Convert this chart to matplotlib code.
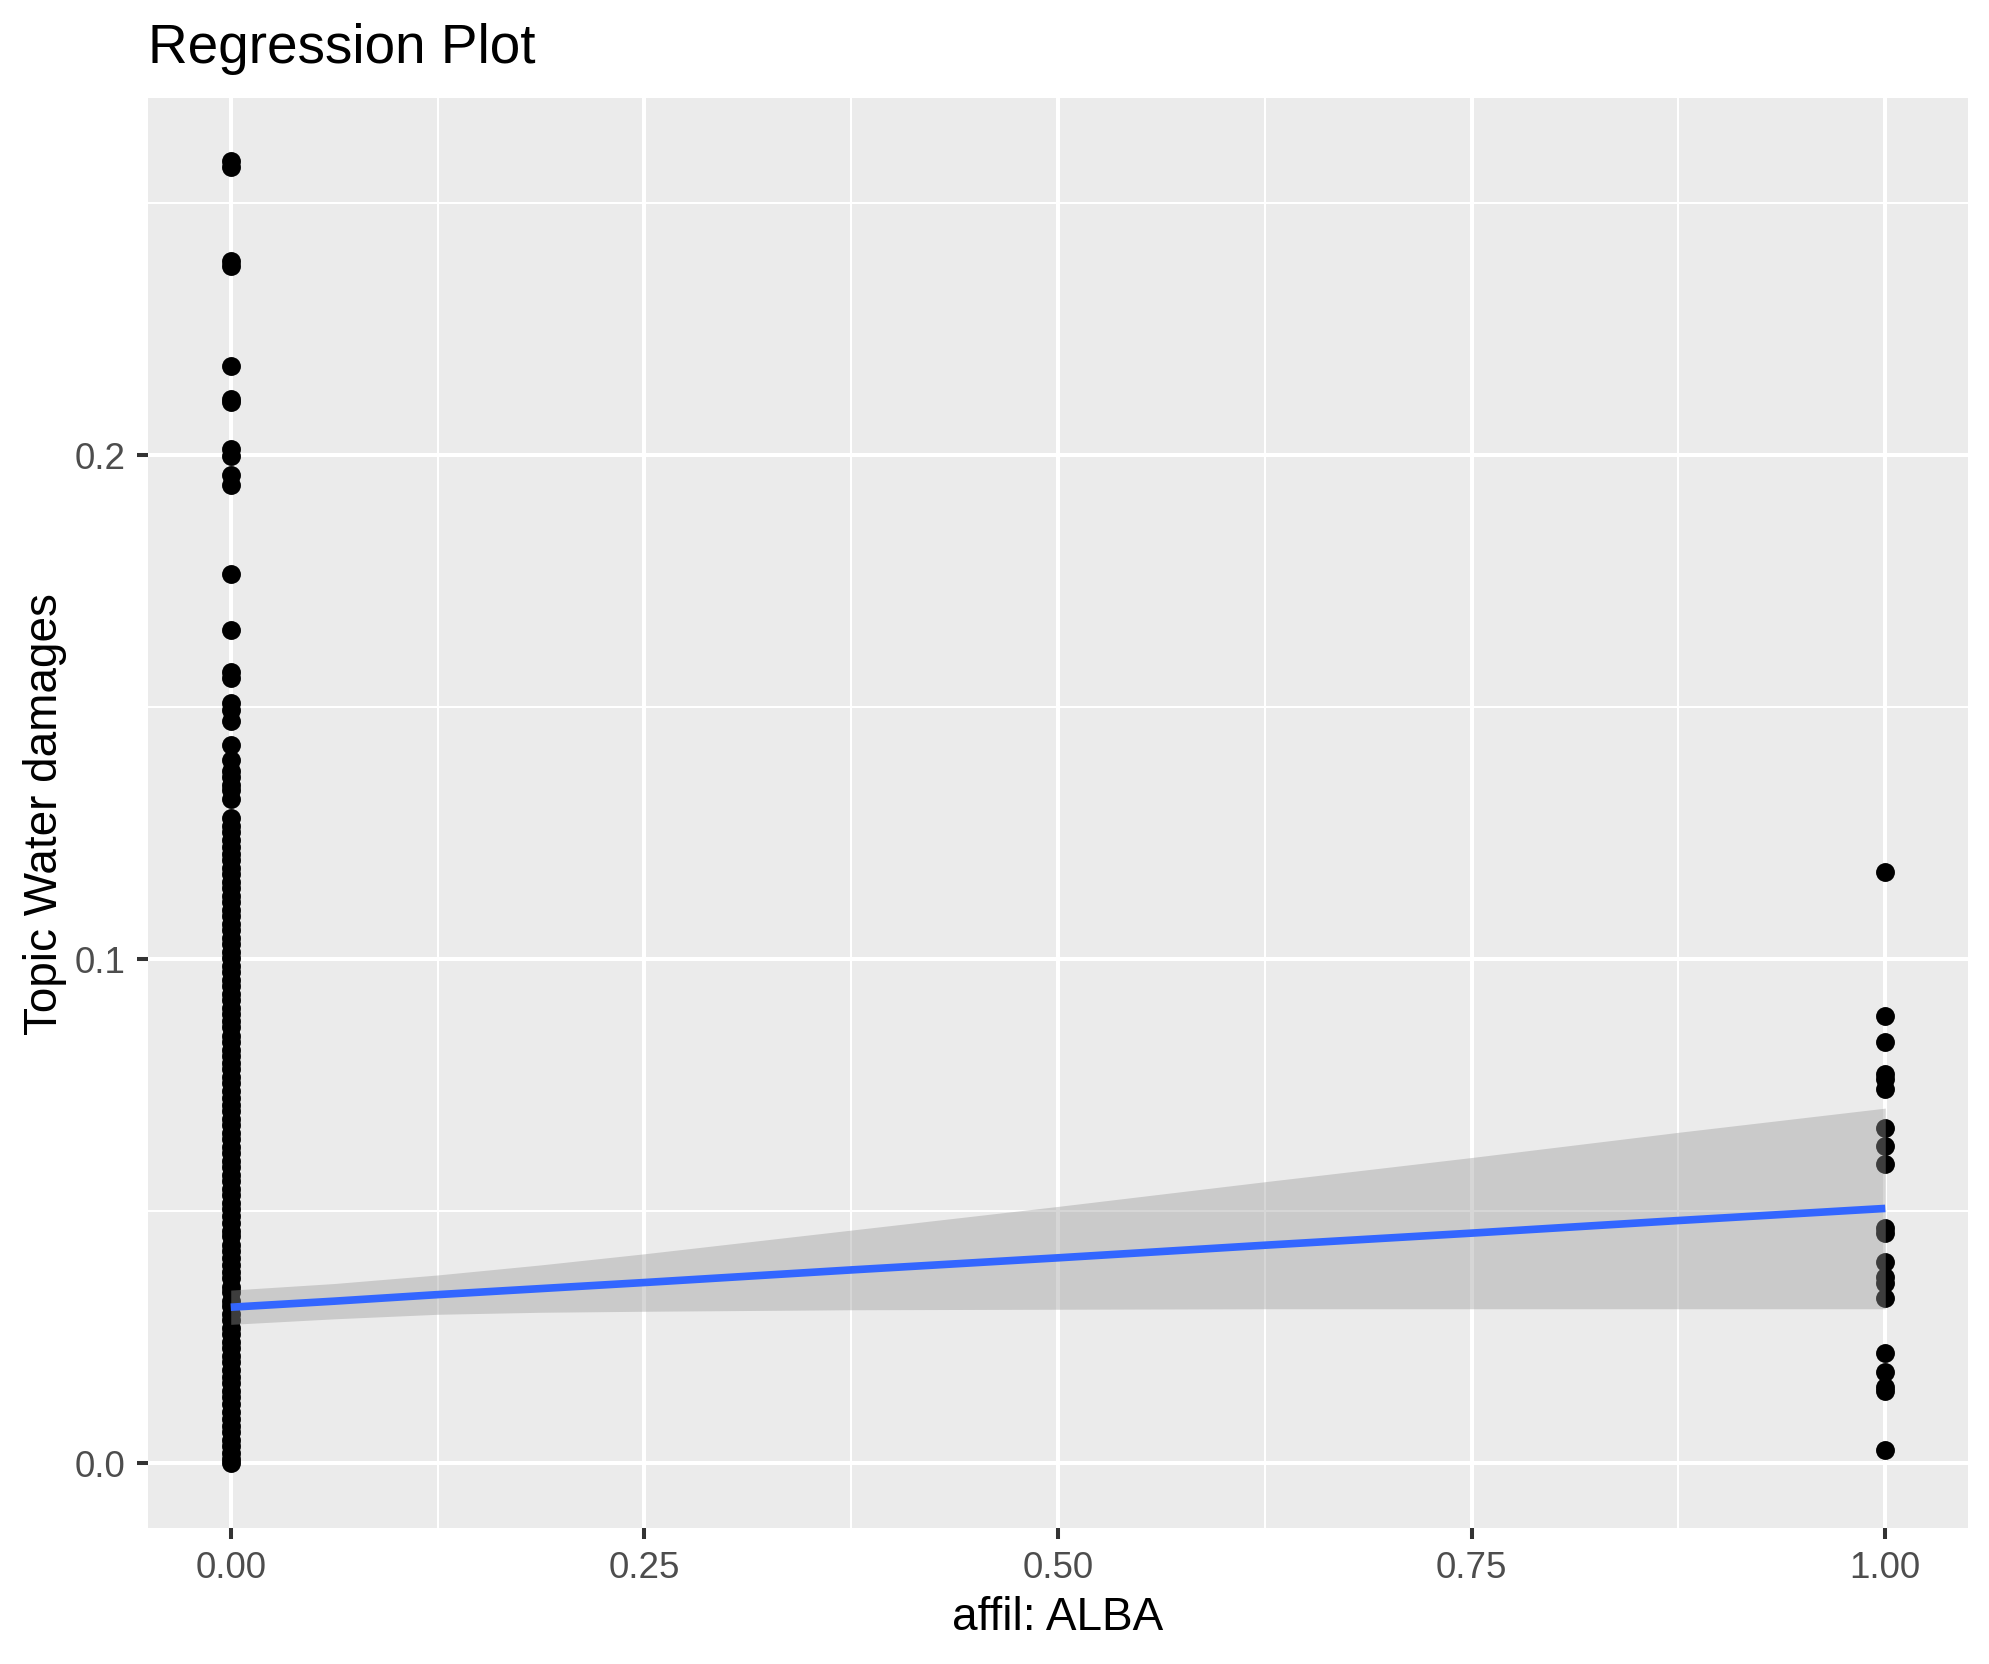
import matplotlib.pyplot as plt

# Topic Water damages, affil ALBA = 0 : sparse upper part
y0_top = [0.2583, 0.2572, 0.2384, 0.2375, 0.2177, 0.2111, 0.2104, 0.2011,
          0.1997, 0.1961, 0.1941, 0.1763, 0.1653, 0.1570, 0.1558, 0.1507,
          0.1494, 0.1472, 0.1424, 0.1395, 0.1372, 0.1360, 0.1345, 0.1335,
          0.1318]
# affil ALBA = 0 : dense part (column of overlapping points)
y0_dense = [0.0000, 0.0007, 0.0019, 0.0033, 0.0046, 0.0062, 0.0073, 0.0088,
            0.0101, 0.0117, 0.0130, 0.0143, 0.0159, 0.0171, 0.0185, 0.0200,
            0.0212, 0.0228, 0.0240, 0.0255, 0.0267, 0.0284, 0.0295, 0.0311,
            0.0322, 0.0339, 0.0350, 0.0366, 0.0378, 0.0393, 0.0406, 0.0421,
            0.0433, 0.0450, 0.0461, 0.0477, 0.0489, 0.0504, 0.0516, 0.0532,
            0.0544, 0.0560, 0.0571, 0.0587, 0.0599, 0.0615, 0.0627, 0.0642,
            0.0654, 0.0670, 0.0682, 0.0698, 0.0710, 0.0725, 0.0737, 0.0753,
            0.0765, 0.0781, 0.0793, 0.0808, 0.0820, 0.0836, 0.0848, 0.0864,
            0.0876, 0.0891, 0.0903, 0.0919, 0.0931, 0.0947, 0.0959, 0.0974,
            0.0986, 0.1002, 0.1014, 0.1030, 0.1042, 0.1057, 0.1069, 0.1085,
            0.1097, 0.1113, 0.1125, 0.1140, 0.1152, 0.1168, 0.1180, 0.1196,
            0.1208, 0.1223, 0.1235, 0.1251, 0.1263, 0.1279]
# affil ALBA = 1
y1_pts = [0.1172, 0.0886, 0.0835, 0.0772, 0.0762, 0.0742, 0.0664, 0.0629,
          0.0594, 0.0466, 0.0456, 0.0399, 0.0369, 0.0357, 0.0327, 0.0219,
          0.0181, 0.0151, 0.0143, 0.0025]

# lm fit and confidence band
fit_x = [0.0, 0.0625, 0.125, 0.1875, 0.25, 0.375, 0.5, 0.625, 0.75, 0.875, 1.0]
fit_y = [0.0309, 0.0321, 0.0334, 0.0346, 0.0358, 0.0383, 0.0407, 0.0432,
         0.0456, 0.0481, 0.0505]
ci_lo = [0.0275, 0.0286, 0.0295, 0.0299, 0.0301, 0.0304, 0.0305, 0.0306,
         0.0306, 0.0306, 0.0306]
ci_hi = [0.0343, 0.0356, 0.0373, 0.0393, 0.0415, 0.0462, 0.0509, 0.0558,
         0.0606, 0.0656, 0.0704]

xticks = [0, 0.25, 0.5, 0.75, 1.0]
xticklabels = ['0.00', '0.25', '0.50', '0.75', '1.00']
yticks = [0, 0.1, 0.2]
yticklabels = ['0.0', '0.1', '0.2']

plt.rcParams['font.family'] = ['Liberation Sans', 'DejaVu Sans']

fig = plt.figure(figsize=(19.9, 16.65), dpi=100)
ax = fig.add_axes([148/1990, 1-1529/1665, 1820/1990, 1430/1665])
ax.set_facecolor('#EBEBEB')
for s in ax.spines.values():
    s.set_visible(False)

xs = [0]*len(y0_top + y0_dense) + [1]*len(y1_pts)
ys = y0_top + y0_dense + y1_pts
ax.scatter(xs, ys, s=185, color='black', linewidths=0, zorder=3)
# band over the points, like ggplot
ax.fill_between(fit_x, ci_lo, ci_hi, color='#999999', alpha=0.4, linewidth=0, zorder=4)
ax.plot(fit_x, fit_y, color='#3366FF', lw=5.5, zorder=5, solid_capstyle='butt')

ax.set_xlim(-0.05, 1.05)
ax.set_ylim(-0.0129, 0.2708)
ax.set_xticks(xticks, xticklabels)
ax.set_yticks(yticks, yticklabels)
ax.set_xticks([0.125, 0.375, 0.625, 0.875], minor=True)
ax.set_yticks([0.05, 0.15, 0.25], minor=True)
ax.tick_params(which='major', length=8, width=2.9, color='#333333',
               labelcolor='#4D4D4D', labelsize=26.5, pad=8)
ax.tick_params(which='minor', length=0)
ax.set_axisbelow(True)
ax.grid(which='major', color='white', lw=2.9)
ax.grid(which='minor', color='white', lw=1.45)

ax.set_title('Regression Plot', loc='left', fontsize=39.5, pad=26)
ax.set_xlabel('affil: ALBA', fontsize=33, va='baseline')
ax.xaxis.set_label_coords(0.5, (1529-1630)/1430)
ax.set_ylabel('Topic Water damages', fontsize=33, va='center')
ax.yaxis.set_label_coords((45-148)/1820, 0.5)

plt.savefig('out.png', dpi=100)
